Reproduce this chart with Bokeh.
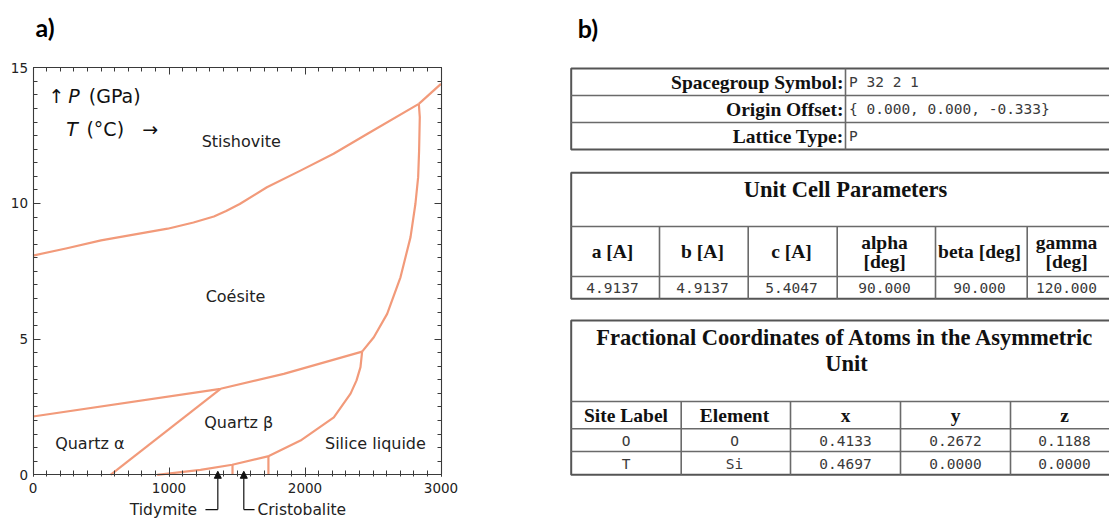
from bokeh.plotting import figure
from bokeh.models import (Range1d, LinearAxis, SingleIntervalTicker, Arrow, NormalHead,
                          CustomJSTickFormatter)
from bokeh.layouts import row
from bokeh.core.properties import value
from bokeh.embed import file_html
from bokeh.resources import INLINE

# ---------------- Panel a: SiO2 phase diagram (T in degC, P in GPa) ----------------
coe_sti_T = [0, 250, 500, 750, 990, 1180, 1330, 1420, 1520, 1720, 1970, 2210, 2460, 2837]
coe_sti_P = [8.08, 8.35, 8.64, 8.86, 9.07, 9.3, 9.52, 9.72, 9.98, 10.6, 11.22, 11.83, 12.57, 13.67]
sti_liq_T = [2837, 3000]
sti_liq_P = [13.67, 14.41]
coe_liq_T = [2837, 2844, 2839, 2832, 2812, 2776, 2702, 2604, 2506, 2420]
coe_liq_P = [13.67, 13.18, 11.95, 10.97, 9.99, 8.76, 7.28, 5.93, 5.07, 4.54]
coe_qtz_T = [0, 1379, 1844, 2420]
coe_qtz_P = [2.15, 3.17, 3.72, 4.54]
alpha_beta_T = [570, 1379]
alpha_beta_P = [0, 3.17]
qtz_liq_T = [2420, 2408, 2379, 2335, 2212, 1967, 1734, 1465, 1232, 913]
qtz_liq_P = [4.54, 3.97, 3.48, 2.99, 2.12, 1.26, 0.69, 0.37, 0.18, 0.0]
trid_T = [1467, 1467]
trid_P = [0.0, 0.37]
cris_T = [1731, 1731]
cris_P = [0.0, 0.69]

phase_names = ["Stishovite", "Coésite", "Quartz β", "Quartz α", "Silice liquide"]
pointer_names = ["Tidymite", "Cristobalite"]

# ---------------- Panel b: crystallographic tables ----------------
sg_labels = ["Spacegroup Symbol:", "Origin Offset:", "Lattice Type:"]
sg_values = ["P 32 2 1", "{ 0.000, 0.000, -0.333}", "P"]
cell_title = "Unit Cell Parameters"
cell_headers = ["a [A]", "b [A]", "c [A]", "alpha\n[deg]", "beta [deg]", "gamma\n[deg]"]
cell_values = ["4.9137", "4.9137", "5.4047", "90.000", "90.000", "120.000"]
atoms_title = ["Fractional Coordinates of Atoms in the Asymmetric", "Unit"]
atoms_headers = ["Site Label", "Element", "x", "y", "z"]
atoms_site = ["O", "T"]
atoms_element = ["O", "Si"]
atoms_x = ["0.4133", "0.4697"]
atoms_y = ["0.2672", "0.0000"]
atoms_z = ["0.1188", "0.0000"]

LINE = "#F29A7A"
AX = "#3a3a3a"
SANS = "DejaVu Sans"
H = 520
WA = 560

# pixel geometry of panel a (the frame covers the whole canvas)
PX_PER_GPA = 27.133
ZERO_Y = 474.3
PX_PER_C = 0.136
ZERO_X = 32.5
x_lo = -ZERO_X / PX_PER_C
x_hi = (WA - ZERO_X) / PX_PER_C
y_lo = -(H - ZERO_Y) / PX_PER_GPA
y_hi = ZERO_Y / PX_PER_GPA

# ================= figure a =================
pa = figure(width=WA, height=H, x_range=Range1d(x_lo, x_hi), y_range=Range1d(y_lo, y_hi),
            output_backend="svg", toolbar_location=None, x_axis_type=None, y_axis_type=None,
            min_border=0)
pa.outline_line_color = None

blank = CustomJSTickFormatter(code="return ''")


def make_axis(interval, labels, bounds, fixed, standoff=4, tin=7, tout=0, min_in=4, min_out=0):
    ax = LinearAxis(ticker=SingleIntervalTicker(interval=interval, num_minor_ticks=10),
                    bounds=bounds, fixed_location=fixed)
    ax.axis_line_color = AX
    ax.axis_line_width = 1.1
    ax.major_tick_line_color = AX
    ax.minor_tick_line_color = AX
    ax.major_tick_in = tin
    ax.major_tick_out = tout
    ax.minor_tick_in = min_in
    ax.minor_tick_out = min_out
    if labels:
        ax.major_label_text_font = SANS
        ax.major_label_text_font_size = "13.5px"
        ax.major_label_text_color = "#222222"
        ax.major_label_standoff = standoff
    else:
        ax.formatter = blank
        ax.major_label_standoff = 0
    return ax


pa.add_layout(make_axis(1000, True, (0, 3000), 0, standoff=6, tout=2, min_out=2), "below")
pa.add_layout(make_axis(5, True, (0, 15), 0, standoff=5), "left")
pa.add_layout(make_axis(1000, False, (0, 3000), 15), "above")
pa.add_layout(make_axis(5, False, (0, 15), 3000), "right")

for xs, ys in [(coe_sti_T, coe_sti_P), (sti_liq_T, sti_liq_P), (coe_liq_T, coe_liq_P),
               (coe_qtz_T, coe_qtz_P), (alpha_beta_T, alpha_beta_P), (qtz_liq_T, qtz_liq_P),
               (trid_T, trid_P), (cris_T, cris_P)]:
    pa.line(xs, ys, line_color=LINE, line_width=2.2, line_join="round")

phase_x = [1531, 1489, 1513, 418, 2518]
phase_y = [12.30, 6.57, 1.94, 1.14, 1.14]
pa.text(x=phase_x, y=phase_y, text=phase_names, text_align="center", text_baseline="middle",
        text_font=value(SANS), text_font_size=value("16px"), text_color="#222222")

# axis annotation in corner
corner = [("↑", 114, 13.95, "normal"), ("P", 259, 13.95, "italic"), ("(GPa)", 410, 13.95, "normal"),
          ("T", 244, 12.75, "italic"), ("(°C)", 393, 12.75, "normal"), ("→", 803, 12.75, "normal")]
for t, x, y, st in corner:
    pa.text(x=[x], y=[y], text=[t], text_align="left", text_baseline="middle",
            text_font=value(SANS), text_font_size=value("19px"), text_font_style=st,
            text_color="#111111")

pa.text(x=[88], y=[16.5], text=["a)"], text_align="center", text_baseline="middle",
        text_font=value("Lato"), text_font_size=value("25px"), text_font_style="bold",
        text_color="#000000")

# Tridymite / Cristobalite pointers below the axis
ylab = -1.28
pa.text(x=[1207, 1650], y=[ylab, ylab], text=pointer_names, text_align=["right", "left"],
        text_baseline="middle", text_font=value(SANS), text_font_size=value("15.5px"),
        text_color="#222222")
for xv, xh in [(1359, 1268), (1550, 1629)]:
    pa.add_layout(Arrow(end=NormalHead(size=7, fill_color="#111111", line_color="#111111"),
                        x_start=xv, y_start=ylab, x_end=xv, y_end=0.13,
                        line_color="#111111", line_width=1.2))
    pa.add_layout(Arrow(end=None, x_start=xh, y_start=ylab, x_end=xv, y_end=ylab,
                        line_color="#111111", line_width=1.2))

# ================= figure b (coordinates = page pixels) =================
pb = figure(width=1109 - WA, height=H, x_range=Range1d(WA, 1109), y_range=Range1d(H, 0),
            output_backend="svg", toolbar_location=None, x_axis_type=None, y_axis_type=None,
            min_border=0)
pb.outline_line_color = None

BORDER = "#555555"
INNER = "#6a6a6a"
SERIF = "Liberation Serif"
MONO = "DejaVu Sans Mono"
HDR = "19.5px"
MONO_SIZE = "14.5px"
MONO_COLOR = "#3a3a3a"
RIGHT = 1125

pb.text(x=[587.5], y=[27], text=["b)"], text_align="center", text_baseline="middle",
        text_font=value("Lato"), text_font_size=value("25px"), text_font_style="bold",
        text_color="#000000")


def box(left, top, bottom):
    pb.quad(left=[left], right=[RIGHT], top=[top], bottom=[bottom], fill_color=None,
            line_color=BORDER, line_width=2)


def hlines(ys, left):
    pb.segment(x0=[left] * len(ys), y0=ys, x1=[RIGHT] * len(ys), y1=ys,
               line_color=INNER, line_width=1.6)


def vlines(xs, top, bottom):
    pb.segment(x0=xs, y0=[top] * len(xs), x1=xs, y1=[bottom] * len(xs),
               line_color=INNER, line_width=1.6)


# table 1
L = 570.7
t1_rows = [68, 95, 122, 149]
box(L, t1_rows[0], t1_rows[-1])
hlines(t1_rows[1:-1], L)
vlines([845], t1_rows[0], t1_rows[-1])
t1_cy = [(a + b) / 2 for a, b in zip(t1_rows[:-1], t1_rows[1:])]
pb.text(x=[843] * 3, y=t1_cy, text=sg_labels, text_align="right", text_baseline="middle",
        text_font=value(SERIF), text_font_size=value(HDR), text_font_style="bold",
        text_color="#111111")
pb.text(x=[848.5] * 3, y=t1_cy, text=sg_values, text_align="left", text_baseline="middle",
        text_font=value(MONO), text_font_size=value(MONO_SIZE), text_color=MONO_COLOR)

# table 2
t2_top, t2_title_b, t2_head_b, t2_bot = 172.3, 226, 276, 298.3
t2_cols = [659, 747.7, 836.7, 935, 1026.7]
box(L, t2_top, t2_bot)
hlines([t2_title_b, t2_head_b], L)
vlines(t2_cols, t2_title_b, t2_bot)
pb.text(x=[845], y=[188.5], text=[cell_title], text_align="center", text_baseline="middle",
        text_font=value(SERIF), text_font_size=value("22.5px"), text_font_style="bold",
        text_color="#111111")
t2_cx = [612, 702, 791, 884, 979, 1066]
hx, hy, ht = [], [], []
for cx, h in zip(t2_cx, cell_headers):
    parts = h.split("\n")
    if len(parts) == 1:
        hx.append(cx); hy.append(251); ht.append(h)
    else:
        for k, part in enumerate(parts):
            hx.append(cx); hy.append(241.5 + 19.5 * k); ht.append(part)
pb.text(x=hx, y=hy, text=ht, text_align="center", text_baseline="middle",
        text_font=value(SERIF), text_font_size=value(HDR), text_font_style="bold",
        text_color="#111111")
pb.text(x=t2_cx, y=[287.5] * 6, text=cell_values, text_align="center", text_baseline="middle",
        text_font=value(MONO), text_font_size=value(MONO_SIZE), text_color=MONO_COLOR)

# table 3
t3_top, t3_title_b, t3_head_b, t3_r1_b, t3_bot = 320, 401, 428.3, 451, 474.3
t3_cols = [680.7, 790, 900, 1010]
box(L, t3_top, t3_bot)
hlines([t3_title_b, t3_head_b, t3_r1_b], L)
vlines(t3_cols, t3_title_b, t3_bot)
pb.text(x=[845, 846], y=[337, 362.5], text=atoms_title, text_align="center", text_baseline="middle",
        text_font=value(SERIF), text_font_size=value("22.5px"), text_font_style="bold",
        text_color="#111111")
t3_cx = [625.5, 734, 845, 955, 1064]
pb.text(x=t3_cx, y=[414.5] * 5, text=atoms_headers, text_align="center", text_baseline="middle",
        text_font=value(SERIF), text_font_size=value(HDR), text_font_style="bold",
        text_color="#111111")
for i, ry in enumerate([440, 463]):
    vals = [atoms_site[i], atoms_element[i], atoms_x[i], atoms_y[i], atoms_z[i]]
    pb.text(x=t3_cx, y=[ry] * 5, text=vals, text_align="center", text_baseline="middle",
            text_font=value(MONO), text_font_size=value(MONO_SIZE), text_color=MONO_COLOR)

layout = row(pa, pb)
open("out.html", "w").write(file_html(layout, INLINE))
